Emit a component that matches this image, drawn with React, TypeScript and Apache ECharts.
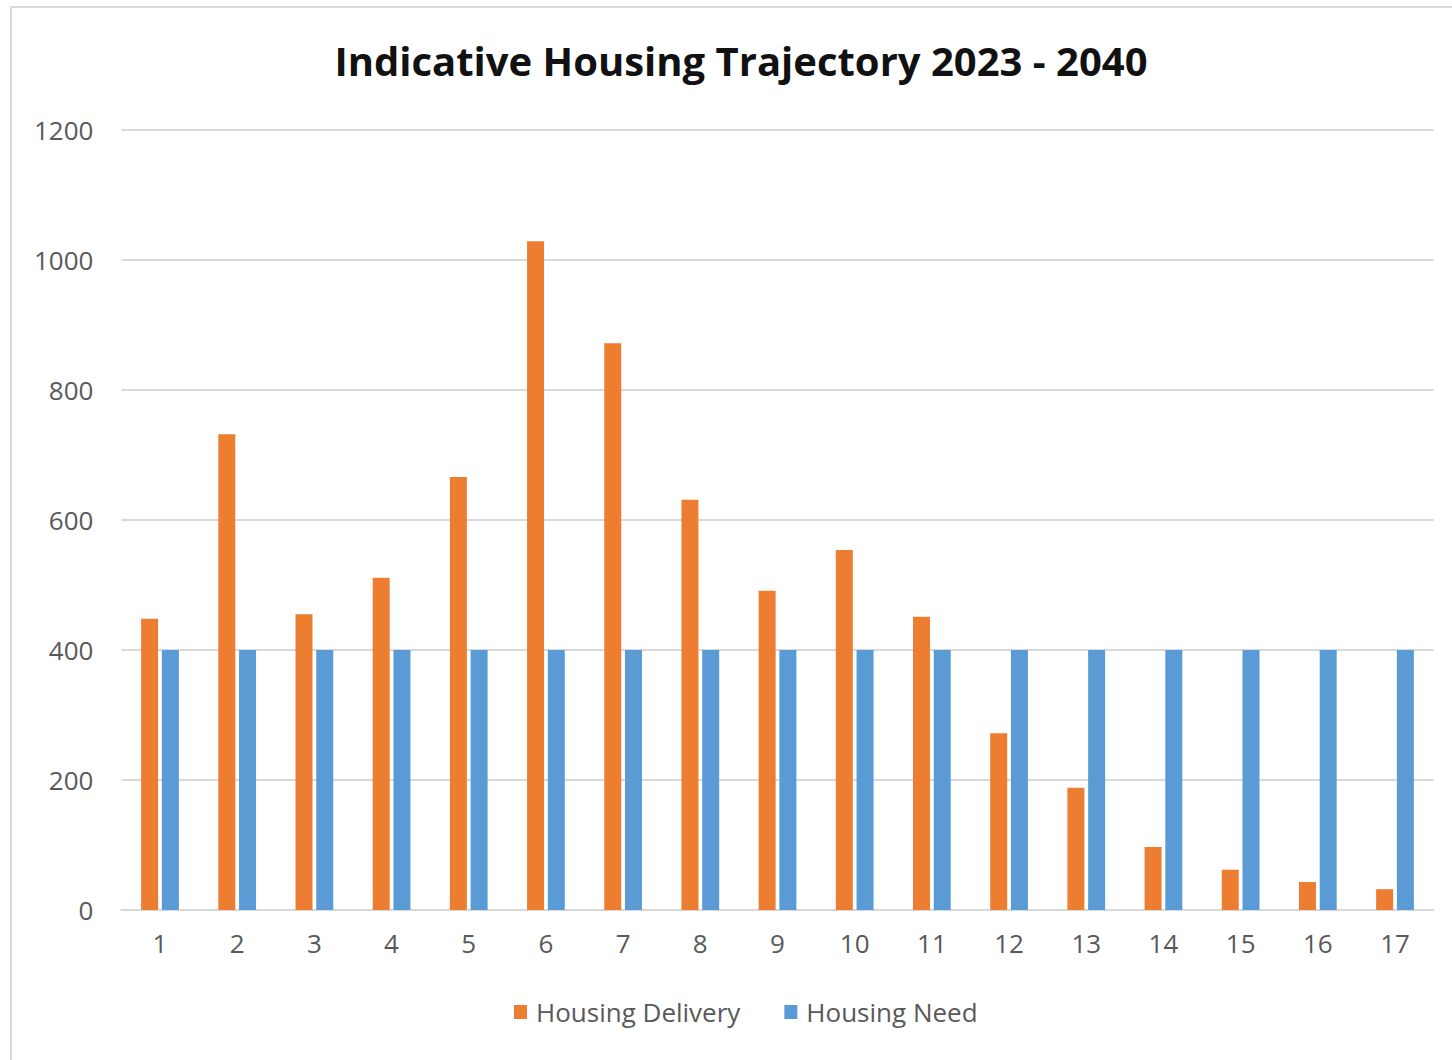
import React, { useEffect, useRef } from "react";
import * as echarts from "echarts";

const categories = ["1", "2", "3", "4", "5", "6", "7", "8", "9", "10", "11", "12", "13", "14", "15", "16", "17"];
const housingDelivery = [448, 732, 455, 511, 666, 1029, 872, 631, 491, 554, 451, 272, 188, 97, 62, 43, 32];
const housingNeed = [400, 400, 400, 400, 400, 400, 400, 400, 400, 400, 400, 400, 400, 400, 400, 400, 400];
const yTicks = { min: 0, max: 1200, interval: 200 };

export default function App() {
  const ref = useRef<HTMLDivElement>(null);
  useEffect(() => {
    if (!ref.current) return;
    const chart = echarts.init(ref.current, null, { renderer: "svg" });
    const font = "'Open Sans', Lato, sans-serif";
    chart.setOption({
      animation: false,
      backgroundColor: "#ffffff",
      graphic: [
        {
          type: "rect",
          shape: { x: 11, y: 7, width: 1500, height: 1100 },
          style: { fill: "none", stroke: "#d9d9d9", lineWidth: 2 },
          silent: true,
          z: -1,
        },
      ],
      title: {
        text: "Indicative Housing Trajectory 2023 - 2040",
        left: 736,
        textAlign: "center",
        top: 35,
        textStyle: { fontFamily: font, fontSize: 40, fontWeight: "bold", color: "#111111" },
      },
      legend: {
        data: ["Housing Delivery", "Housing Need"],
        bottom: 30,
        left: 509,
        itemWidth: 13,
        itemHeight: 14,
        itemGap: 44,
        icon: "rect",
        textStyle: { fontFamily: font, fontSize: 26, color: "#595959", padding: [0, 0, 0, 4] },
      },
      grid: { left: 121.4, right: 18.4, top: 130, bottom: 150 },
      xAxis: {
        type: "category",
        data: categories,
        axisLine: { lineStyle: { color: "#d9d9d9", width: 2 } },
        axisTick: { show: false },
        axisLabel: { fontFamily: font, fontSize: 26, color: "#595959", margin: 20 },
      },
      yAxis: {
        type: "value",
        min: yTicks.min,
        max: yTicks.max,
        interval: yTicks.interval,
        axisLine: { show: false },
        axisTick: { show: false },
        splitLine: { lineStyle: { color: "#d9d9d9", width: 2 } },
        axisLabel: {
          fontFamily: font,
          fontSize: 26,
          color: "#595959",
          margin: 28,
          formatter: (v: number) => String(v),
        },
      },
      series: [
        {
          name: "Housing Delivery",
          type: "bar",
          data: housingDelivery,
          barWidth: 17,
          barGap: "22%",
          itemStyle: { color: "#ED7D31" },
        },
        {
          name: "Housing Need",
          type: "bar",
          data: housingNeed,
          barWidth: 17,
          itemStyle: { color: "#5B9BD5" },
        },
      ],
    });
    return () => chart.dispose();
  }, []);
  return (
    <div
      ref={ref}
      style={{ position: "fixed", left: 0, top: 0, width: 1452, height: 1060 }}
    />
  );
}
